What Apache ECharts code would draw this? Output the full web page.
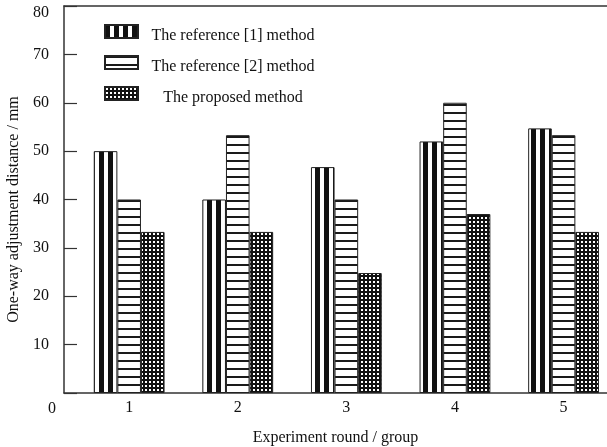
<!DOCTYPE html>
<html>
<head>
<meta charset="utf-8">
<script src="https://cdn.jsdelivr.net/npm/echarts@6/dist/echarts.min.js"></script>
<style>
html,body{margin:0;padding:0;background:#fff;}
#chart{width:607px;height:447px;}
</style>
</head>
<body>
<div id="chart"></div>
<script>
const categories = [1, 2, 3, 4, 5];
const seriesNames = ['The reference [1] method', 'The reference [2] method', 'The proposed method'];
const ref1Values = [50, 40, 46.7, 52, 54.7];
const ref2Values = [40, 53.3, 40, 60, 53.3];
const proposedValues = [33.3, 33.3, 24.8, 37, 33.3];
const xAxisTitle = 'Experiment round / group';
const yAxisTitle = 'One-way adjustment distance / mm';

function makeTile(w, h, draw) {
  const c = document.createElement('canvas');
  c.width = w; c.height = h;
  const ctx = c.getContext('2d');
  draw(ctx);
  return { image: c, repeat: 'repeat' };
}
const vStripe = makeTile(9, 4, ctx => {
  ctx.fillStyle = '#fff'; ctx.fillRect(0, 0, 9, 4);
  ctx.fillStyle = '#111'; ctx.fillRect(0, 0, 5, 4);
});
const hStripe = makeTile(4, 8, ctx => {
  ctx.fillStyle = '#fff'; ctx.fillRect(0, 0, 4, 8);
  ctx.fillStyle = '#1a1a1a'; ctx.fillRect(0, 0, 4, 2);
});
const dots = makeTile(4, 4, ctx => {
  ctx.fillStyle = '#111'; ctx.fillRect(0, 0, 4, 4);
  ctx.fillStyle = '#fff'; ctx.fillRect(1, 1, 2, 2);
});

const fills = [vStripe, hStripe, dots];
const valueSets = [ref1Values, ref2Values, proposedValues];
const font = 'Liberation Serif';

const chart = echarts.init(document.getElementById('chart'), null, { renderer: 'canvas' });
chart.setOption({
  animation: false,
  backgroundColor: '#fff',
  textStyle: { fontFamily: font, color: '#111' },
  grid: { left: 64, right: 0, top: 6, bottom: 54, containLabel: false, outerBoundsMode: 'none' },
  legend: {
    orient: 'vertical',
    left: 104,
    top: 19,
    padding: 0,
    itemWidth: 33,
    itemHeight: 13,
    itemGap: 6,
    icon: 'rect',
    data: seriesNames,
    formatter: name => '{t|' + name + '}',
    textStyle: {
      fontFamily: font,
      color: '#111',
      rich: { t: { fontFamily: font, fontSize: 16, width: 180, align: 'center', color: '#111', lineHeight: 17, padding: [9, 0, 0, 0] } }
    }
  },
  xAxis: [{
    type: 'value',
    min: 0.4,
    max: 5.4,
    splitLine: { show: false },
    axisLine: { show: true, onZero: false, lineStyle: { color: '#333', width: 1.5 } },
    axisTick: { show: false },
    axisLabel: { customValues: categories, fontFamily: font, fontSize: 16, color: '#111', margin: 7 },
    name: xAxisTitle,
    nameLocation: 'middle',
    nameGap: 37,
    nameTextStyle: { fontFamily: font, fontSize: 16, color: '#111' }
  }, {
    type: 'value',
    position: 'top',
    min: 0.4,
    max: 5.4,
    splitLine: { show: false },
    axisLine: { show: true, onZero: false, lineStyle: { color: '#333', width: 1.5 } },
    axisTick: { show: false },
    axisLabel: { show: false }
  }],
  yAxis: {
    type: 'value',
    min: 0,
    max: 80,
    interval: 10,
    splitLine: { show: false },
    axisLine: { show: true, lineStyle: { color: '#333', width: 1.5 } },
    axisTick: { show: true, inside: true, length: 13, lineStyle: { color: '#333', width: 1.2 } },
    axisLabel: {
      fontFamily: font, fontSize: 16, color: '#111', margin: 15,
      formatter: v => (v === 0 ? '' : (v === 80 ? '{top|80}' : String(v))),
      rich: { top: { fontFamily: font, fontSize: 16, color: '#111', padding: [14, 0, 0, 0] } }
    },
    name: yAxisTitle,
    nameLocation: 'middle',
    nameGap: 42,
    nameTextStyle: { fontFamily: font, fontSize: 16, color: '#111', padding: [0, 20, 0, 0] }
  },
  graphic: [{
    type: 'text',
    left: 48,
    top: 401,
    style: { text: '0', font: '16px "Liberation Serif"', fill: '#111' }
  }],
  series: seriesNames.map((name, i) => ({
    name: name,
    type: 'bar',
    xAxisIndex: 0,
    barWidth: 23.6,
    barGap: '0%',
    itemStyle: { color: fills[i], borderColor: '#222', borderWidth: 1 },
    data: categories.map((c, j) => [c, valueSets[i][j]])
  }))
});
</script>
</body>
</html>
